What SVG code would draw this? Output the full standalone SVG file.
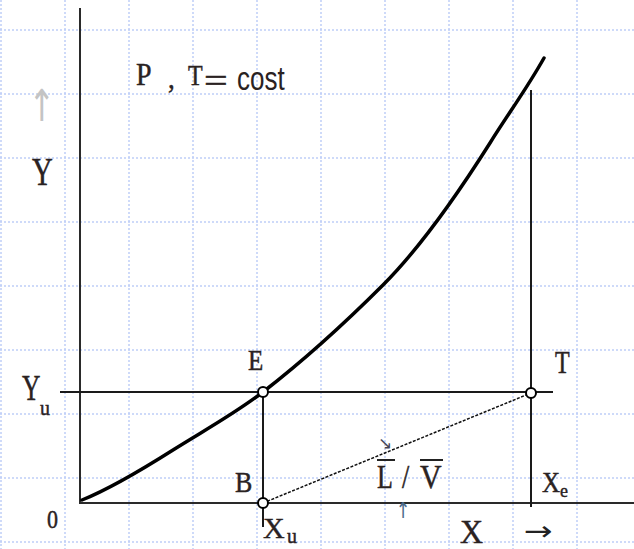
<svg xmlns="http://www.w3.org/2000/svg" width="634" height="549" viewBox="0 0 634 549">
<style>
.grid{stroke:#bfcef7;stroke-width:1.5;stroke-dasharray:2,2;fill:none}
.ax{stroke:#2a2a2a;stroke-width:2;fill:none}
.ln{stroke:#1a1a1a;stroke-width:2;fill:none}
.curve{stroke:#000;stroke-width:3.5;fill:none;stroke-linecap:round}
.dash{stroke:#111;stroke-width:1.5;stroke-dasharray:3,1.5;fill:none}
.pt{fill:#fff;stroke:#000;stroke-width:2}
.t{font-family:"Liberation Serif","Times New Roman",serif;fill:#2a2222;stroke:#2a2222;stroke-width:0.4}
.s{font-family:"Liberation Sans",Arial,sans-serif;fill:#2a2222}
.ar{font-family:"DejaVu Sans",sans-serif}
</style>
<rect width="634" height="549" fill="#fff"/>
<g id="grid">
<path class="grid" d="M1,0V549M65,0V549M129,0V549M193,0V549M257,0V549M321,0V549M385,0V549M449,0V549M513,0V549M577,0V549"/>
<path class="grid" d="M0,30H634M0,94H634M0,158H634M0,222H634M0,286H634M0,350H634M0,414H634M0,478H634M0,542H634"/>
</g>
<g id="connectors">
<path class="ax" d="M80,8V504"/>
<path class="ax" d="M79,503H634"/>
<path class="ln" d="M60,392H553"/>
<path class="ln" d="M263,392V527"/>
<path class="ln" d="M531,90V507"/>
<path class="dash" d="M263,503L531,393"/>
<path id="curve" class="curve" d="M82,500C112,488 143,469 173,450C203,431 233,415 263,392C303,361 343,325 383,285C419,249 454,200 490,143C508,114 526,90 544,58"/>
</g>
<g id="node-E"><circle class="pt" cx="263" cy="392" r="5"/><text class="t" font-size="25" transform="translate(248,370) scale(1,1.15)">E</text></g>
<g id="node-B"><circle class="pt" cx="263" cy="503" r="5"/><text class="t" font-size="26" transform="translate(235,492) scale(1,1.15)">B</text></g>
<g id="node-T"><circle class="pt" cx="531" cy="393" r="5"/><text class="t" font-size="24" transform="translate(555,373) scale(1,1.3)">T</text></g>
<g id="labels">
<text class="t" font-size="28" transform="translate(136,85) scale(1,1.1)">P</text>
<text class="t" font-size="27" transform="translate(168,88) scale(1,1.1)">,</text>
<text class="t" font-size="24" transform="translate(188,85) scale(1,1.2)">T</text>
<text class="t" font-size="30" transform="translate(204,92) scale(1.4,1.1)">=</text>
<text class="s" font-size="26" transform="translate(237,90) scale(1,1.25)">cost</text>
<text class="ar" font-size="40" fill="#c4c4c4" text-anchor="middle" transform="translate(42,121) scale(0.8,1.1)">↑</text>
<text class="t" font-size="32" transform="translate(32,185) scale(0.9,1.25)">Y</text>
<text class="t" font-size="30" transform="translate(22,400) scale(0.85,1.2)">Y</text>
<text class="t" font-size="20" transform="translate(40,415) scale(1,1.1)">u</text>
<text class="t" font-size="22" fill="#666" stroke="#666" stroke-width="0.2" transform="translate(47,528) scale(1,1.15)">0</text>
<text class="t" font-size="30" transform="translate(263,538) scale(1,1)">X</text>
<text class="t" font-size="20" transform="translate(287,543) scale(1,1.05)">u</text>
<text class="t" font-size="25" transform="translate(542,492) scale(1,1.2)">X</text>
<text class="t" font-size="18" transform="translate(560,497) scale(1,1.1)">e</text>
<text class="t" font-size="26" transform="translate(377,488) scale(1,1.3)">L</text>
<text class="t" font-size="26" fill="#aaa" stroke="none" transform="translate(402,488) scale(1,1.3)">/</text>
<text class="t" font-size="30" transform="translate(420,488) scale(1,1.15)">V</text>
<path d="M377,460H395M420,460H443" stroke="#222" stroke-width="2"/>
<text class="ar" font-size="17" fill="#445" transform="translate(378,449)">↘</text>
<text class="ar" font-size="22" fill="#4a6a8a" text-anchor="middle" transform="translate(403,518) scale(0.8,1)">↑</text>
<text class="t" font-size="32" transform="translate(460,543) scale(1,1.05)">X</text>
<text class="ar" font-size="30" fill="#222" transform="translate(524,540) scale(1.15,0.9)">→</text>
</g>
</svg>
